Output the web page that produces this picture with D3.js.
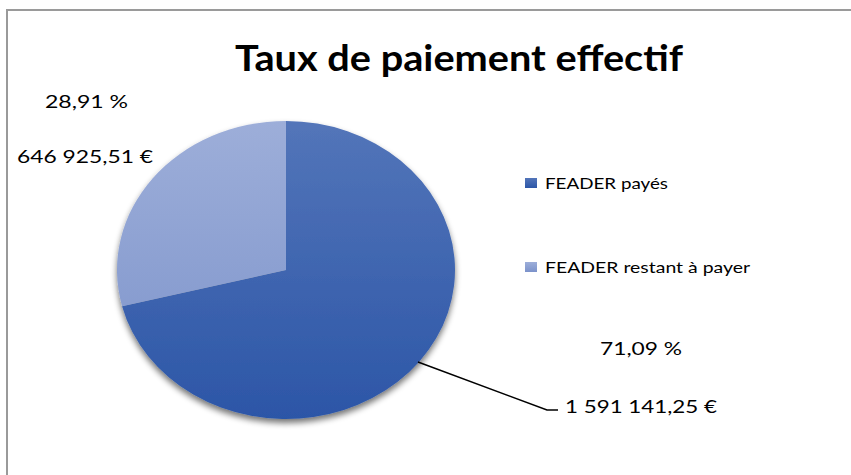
<!DOCTYPE html>
<html><head><meta charset="utf-8">
<script src="https://cdn.jsdelivr.net/npm/d3@7"></script>
<style>html,body{margin:0;padding:0;background:#fff;}svg{display:block;}</style>
</head><body>
<script>
const categories = ["FEADER payés", "FEADER restant à payer"];
const values = [1591141.25, 646925.51];
const percentLabels = ["71,09 %", "28,91 %"];
const valueLabels = ["1 591 141,25 €", "646 925,51 €"];
const title = "Taux de paiement effectif";

const W = 851, H = 475;
const svg = d3.select("body").append("svg").attr("width", W).attr("height", H);
const defs = svg.append("defs");

const grads = [["#5375B9", "#2C56A7"], ["#9DAED9", "#7B92CA"]];
grads.forEach((g, i) => {
  const lg = defs.append("linearGradient").attr("id", "g" + i)
    .attr("gradientUnits", "userSpaceOnUse").attr("x1", 0).attr("y1", -149).attr("x2", 0).attr("y2", 149);
  lg.append("stop").attr("offset", "0%").attr("stop-color", g[0]);
  lg.append("stop").attr("offset", "100%").attr("stop-color", g[1]);
});
const f = defs.append("filter").attr("id", "sh").attr("x", "-20%").attr("y", "-20%").attr("width", "140%").attr("height", "140%");
f.append("feGaussianBlur").attr("in", "SourceAlpha").attr("stdDeviation", 3).attr("result", "b");
f.append("feOffset").attr("in", "b").attr("dy", 4).attr("result", "o");
f.append("feComponentTransfer").attr("in", "o").attr("result", "o2")
  .append("feFuncA").attr("type", "linear").attr("slope", 0.55);
const m = f.append("feMerge");
m.append("feMergeNode").attr("in", "o2");
m.append("feMergeNode").attr("in", "SourceGraphic");

// frame
svg.append("path").attr("d", `M7,${H} L7,10 L${W},10`).attr("fill", "none").attr("stroke", "#9a9a9a").attr("stroke-width", 2);

const fontBody = "Lato, 'Open Sans', sans-serif";

svg.append("text").attr("x", 459).attr("y", 71).attr("text-anchor", "middle")
  .attr("font-family", fontBody).attr("font-weight", "bold").attr("font-size", 37)
  .attr("textLength", 448).attr("lengthAdjust", "spacingAndGlyphs").attr("fill", "#000").text(title);

const cx = 286, cy = 270, ry = 149, rx = 169;
const pie = d3.pie().sort(null).value(d => d);
const arcs = pie(values);
const arc = d3.arc().innerRadius(0).outerRadius(ry);
const gp = svg.append("g").attr("transform", `translate(${cx},${cy}) scale(${rx / ry},1)`).attr("filter", "url(#sh)");
gp.selectAll("path").data(arcs).enter().append("path")
  .attr("d", arc).attr("fill", (d, i) => `url(#g${i})`);

// leader line for payés
svg.append("polyline").attr("points", "418,362 547,410 558,410").attr("fill", "none").attr("stroke", "#000").attr("stroke-width", 1.6);

const lab = [
  {t: percentLabels[1], x: 45, y: 108, w: 83},
  {t: valueLabels[1], x: 17, y: 163, w: 136},
  {t: percentLabels[0], x: 600, y: 355, w: 82},
  {t: valueLabels[0], x: 565, y: 413, w: 152}
];
svg.selectAll("text.lab").data(lab).enter().append("text").attr("class", "lab")
  .attr("x", d => d.x).attr("y", d => d.y).attr("font-family", fontBody).attr("font-size", 18)
  .attr("textLength", d => d.w).attr("lengthAdjust", "spacingAndGlyphs").attr("fill", "#000").text(d => d.t);

// legend
const legY = [183, 267];
const lg = svg.selectAll("g.leg").data(categories).enter().append("g").attr("class", "leg")
  .attr("transform", (d, i) => `translate(525,${legY[i]})`);
lg.append("rect").attr("x", 0).attr("y", -5).attr("width", 12).attr("height", 10).attr("fill", (d, i) => `url(#lg${i})`);
categories.forEach((c, i) => {
  const l = defs.append("linearGradient").attr("id", "lg" + i).attr("x1", 0).attr("y1", 0).attr("x2", 0).attr("y2", 1);
  l.append("stop").attr("offset", "0%").attr("stop-color", grads[i][0]);
  l.append("stop").attr("offset", "100%").attr("stop-color", grads[i][1]);
});
const legW = [123, 205];
lg.append("text").attr("x", 20).attr("y", 6).attr("font-family", fontBody).attr("font-size", 15)
  .attr("textLength", (d, i) => legW[i]).attr("lengthAdjust", "spacingAndGlyphs").attr("fill", "#000").text(d => d);
</script>
</body></html>
